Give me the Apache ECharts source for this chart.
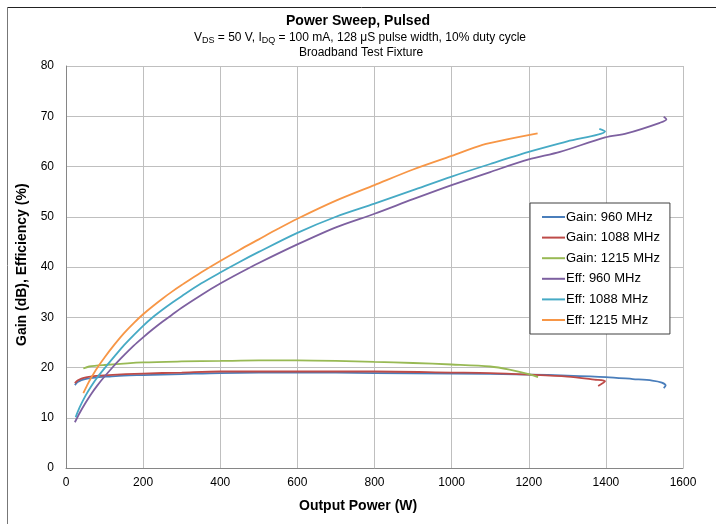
<!DOCTYPE html>
<html>
<head>
<meta charset="utf-8">
<script src="https://cdn.jsdelivr.net/npm/echarts@6/dist/echarts.min.js"></script>
<style>
  html, body { margin: 0; padding: 0; background: #fff; }
  #chart { width: 716px; height: 524px; }
</style>
</head>
<body>
<div id="chart"></div>
<script>
// series names + colours (excel palette)
var seriesNames = ['Gain: 960 MHz', 'Gain: 1088 MHz', 'Gain: 1215 MHz', 'Eff: 960 MHz', 'Eff: 1088 MHz', 'Eff: 1215 MHz'];
var seriesColors = ['#4a7ebb', '#be4b48', '#98b954', '#7d60a0', '#46aac5', '#f79646'];

// [output power W, value]
var gain960 = [[23,16.5],[30,17.1],[40,17.5],[55,17.8],[75,18.0],[110,18.2],[150,18.4],[200,18.5],[300,18.7],[400,18.9],[600,19.0],[800,18.9],[1000,18.8],[1200,18.6],[1300,18.4],[1400,18.1],[1470,17.7],[1520,17.4],[1545,17.0],[1555,16.4],[1550,15.9]];
var gain1088 = [[23,16.9],[30,17.4],[40,17.8],[55,18.1],[71,18.3],[110,18.5],[200,18.8],[300,19.0],[400,19.2],[600,19.2],[800,19.2],[1000,19.0],[1100,18.9],[1200,18.6],[1300,18.2],[1370,17.6],[1398,17.3],[1380,16.3]];
var gain1215 = [[45,19.8],[60,20.2],[100,20.5],[200,21.0],[300,21.2],[400,21.3],[500,21.4],[600,21.4],[700,21.3],[800,21.1],[900,20.9],[1000,20.6],[1100,20.2],[1150,19.6],[1200,18.7],[1224,18.1]];
var eff960 = [[23,9.1],[35,10.9],[50,12.9],[65,14.7],[80,16.3],[100,18.2],[125,20.4],[150,22.4],[175,24.3],[200,26.0],[225,27.6],[250,29.1],[275,30.5],[300,31.9],[350,34.4],[400,36.7],[450,38.8],[500,40.8],[600,44.5],[700,47.9],[800,50.6],[900,53.5],[1000,56.3],[1100,58.9],[1200,61.4],[1281,62.9],[1398,65.8],[1454,66.6],[1540,68.7],[1557,69.4],[1550,69.9]];
var eff1088 = [[25,10.1],[35,12.0],[50,14.3],[65,16.2],[80,17.9],[105,20.3],[130,22.6],[150,24.4],[175,26.4],[200,28.3],[225,30.0],[250,31.5],[275,32.9],[300,34.2],[350,36.7],[400,38.9],[450,41.0],[500,43.0],[600,46.8],[700,50.0],[800,52.6],[900,55.3],[1000,58.0],[1100,60.5],[1200,62.9],[1300,65.0],[1398,67.0],[1383,67.5]];
var eff1215 = [[45,14.9],[55,16.5],[65,17.9],[80,19.8],[100,22.0],[125,24.5],[150,26.8],[175,28.8],[200,30.6],[225,32.2],[250,33.7],[275,35.1],[300,36.4],[350,38.9],[400,41.2],[450,43.4],[500,45.5],[550,47.6],[600,49.6],[700,53.2],[800,56.3],[900,59.4],[1000,62.1],[1080,64.3],[1150,65.5],[1223,66.6]];

var xTicks = { min: 0, max: 1600, interval: 200 };
var yTicks = { min: 0, max: 80, interval: 10 };

var allData = [gain960, gain1088, gain1215, eff960, eff1088, eff1215];

var myChart = echarts.init(document.getElementById('chart'));
var font = '"Liberation Sans", Arial, sans-serif';

var series = [];
for (var i = 0; i < allData.length; i++) {
    series.push({
        name: seriesNames[i],
        type: 'line',
        data: allData[i],
        showSymbol: false,
        smooth: 0.3,
        lineStyle: { color: seriesColors[i], width: 1.8 },
        itemStyle: { color: seriesColors[i] }
    });
}

myChart.setOption({
    animation: false,
    backgroundColor: '#fff',
    textStyle: { fontFamily: font },
    graphic: [
        { type: 'line', shape: { x1: 7, y1: 7.5, x2: 716, y2: 7.5 }, style: { stroke: '#222', lineWidth: 1 } },
        { type: 'line', shape: { x1: 7.5, y1: 7, x2: 7.5, y2: 524 }, style: { stroke: '#777', lineWidth: 1 } },
        { type: 'text', left: 'center', top: 14, style: { text: 'Power Sweep, Pulsed', font: 'bold 14px ' + font, fill: '#000', x: 8 } },
        {
            type: 'text', left: 194, top: 32,
            style: {
                text: '{n|V}{s|DS}{n| = 50 V, I}{s|DQ}{n| = 100 mA, 128 μS pulse width, 10% duty cycle}',
                rich: {
                    n: { fontSize: 12, fontFamily: font, fill: '#000' },
                    s: { fontSize: 9, fontFamily: font, fill: '#000', padding: [6, 0, 0, 0] }
                }
            }
        },
        { type: 'text', left: 299, top: 47, style: { text: 'Broadband Test Fixture', font: '12px ' + font, fill: '#000' } },
        { type: 'text', left: 299, top: 499, style: { text: 'Output Power (W)', font: 'bold 14px ' + font, fill: '#000' } },
        { type: 'text', x: 15, y: 346, rotation: Math.PI / 2, style: { text: 'Gain (dB), Efficiency (%)', font: 'bold 14px ' + font, fill: '#000' } }
    ],
    legend: {
        data: seriesNames,
        orient: 'vertical',
        left: 530,
        top: 203,
        icon: 'rect',
        itemWidth: 23,
        itemHeight: 2,
        itemGap: 6.6,
        padding: [7, 10, 7, 12],
        backgroundColor: '#fff',
        borderColor: '#404040',
        borderWidth: 1,
        textStyle: { fontSize: 13, fontFamily: font, color: '#000', padding: [0, 0, 0, -4], lineHeight: 14 }
    },
    grid: { left: 66, right: 33, top: 66, bottom: 56, containLabel: false },
    xAxis: {
        type: 'value',
        min: xTicks.min, max: xTicks.max, interval: xTicks.interval,
        axisLine: { show: true, lineStyle: { color: '#868686', width: 1 } },
        axisTick: { show: false },
        axisLabel: { fontSize: 12, color: '#000', margin: 9, fontFamily: font, formatter: function (v) { return String(v); } },
        splitLine: { show: true, lineStyle: { color: '#bfbfbf', width: 1 } }
    },
    yAxis: {
        type: 'value',
        min: yTicks.min, max: yTicks.max, interval: yTicks.interval,
        axisLine: { show: true, lineStyle: { color: '#868686', width: 1 } },
        axisTick: { show: false },
        axisLabel: { fontSize: 12, color: '#000', margin: 12, fontFamily: font },
        splitLine: { show: true, lineStyle: { color: '#bfbfbf', width: 1 } }
    },
    series: series
});
</script>
</body>
</html>
